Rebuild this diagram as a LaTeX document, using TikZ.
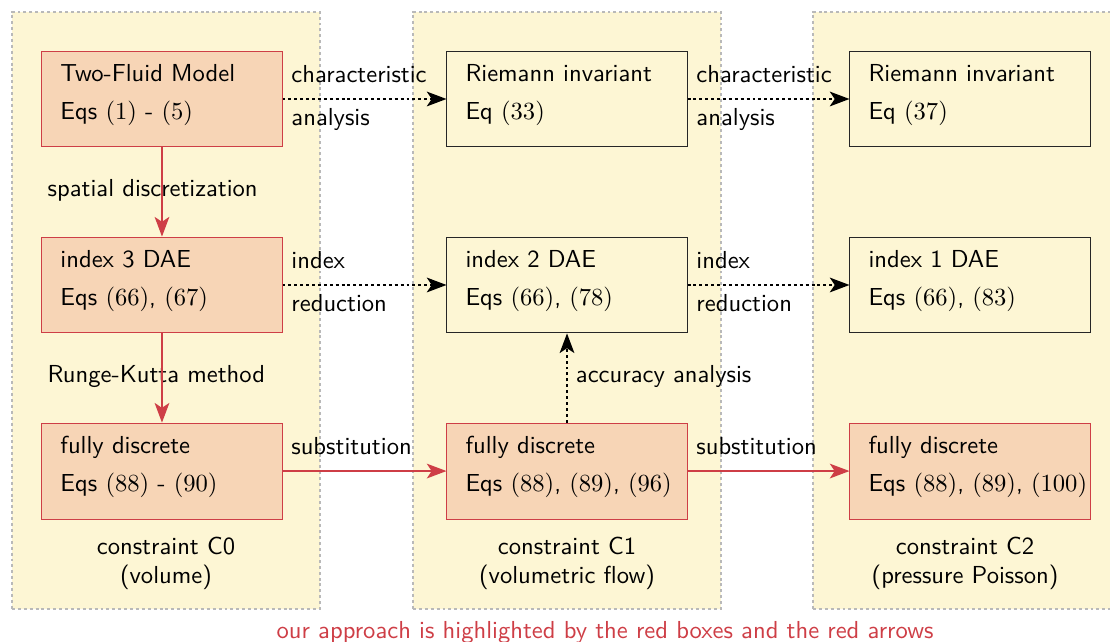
\documentclass[tikz,border=0pt]{standalone}
\usepackage{amsthm,amssymb,amsmath}
\usetikzlibrary{arrows.meta}
\pgfdeclarelayer{bg}
\pgfsetlayers{bg,main}
\definecolor{colbg}{RGB}{253,246,212}
\definecolor{ourfill}{RGB}{247,213,182}
\definecolor{ourred}{RGB}{206,62,70}
\tikzset{
        every node/.style={font=\sffamily},
        column/.style={fill=colbg, draw=gray!55, line width=0.5pt, dash pattern=on 1.2pt off 1.2pt,
                minimum width=4.4cm, minimum height=8.529cm},
        eqbox/.style={draw=black!85, line width=0.4pt, minimum height=1.37cm,
                text width=2.9cm, inner xsep=0.265cm, align=left,
                execute at end node={\rule[-6pt]{0pt}{0pt}}},
        ours/.style={eqbox, draw=ourred, fill=ourfill},
        lbl/.style={text height=0.7em, text depth=0.3em},
        dotarrow/.style={-{Stealth[length=8pt,width=6pt,inset=2pt]},
                line width=0.6pt, dash pattern=on 1.2pt off 1.2pt},
        redarrow/.style={-{Stealth[length=8pt,width=6pt,inset=2pt]},
                draw=ourred, fill=ourred, line width=0.5pt},
}

\begin{document}
\begin{tikzpicture}
        \useasboundingbox (0cm, 0cm) rectangle (15.857cm, -9.171cm);
        \begin{pgfonlayer}{bg}
                \node (k0) [column] at (2.371cm, -4.436cm) {};
                \node (k1) [column] at (8.100cm, -4.436cm) {};
                \node (k2) [column] at (13.814cm, -4.436cm) {};
        \end{pgfonlayer}
        % top row
        \node (a0) [ours] at (2.314cm, -1.414cm) {Two-Fluid Model\\[3.4pt]Eqs~$(1)$~-~$(5)$};
        \node (a1) [eqbox] at (8.100cm, -1.414cm) {Riemann invariant\\[3.4pt]Eq~$(33)$};
        \node (a2) [eqbox] at (13.857cm, -1.414cm) {Riemann invariant\\[3.4pt]Eq~$(37)$};
        % middle row
        \node (b0) [ours] at (2.314cm, -4.071cm) {index 3 DAE\\[3.4pt]Eqs~$(66)$,~$(67)$};
        \node (b1) [eqbox] at (8.100cm, -4.071cm) {index 2 DAE\\[3.4pt]Eqs~$(66)$,~$(78)$};
        \node (b2) [eqbox] at (13.857cm, -4.071cm) {index 1 DAE\\[3.4pt]Eqs~$(66)$,~$(83)$};
        % bottom row
        \node (c0) [ours] at (2.314cm, -6.729cm) {fully discrete\\[3.4pt]Eqs~$(88)$~-~$(90)$};
        \node (c1) [ours] at (8.100cm, -6.729cm) {fully discrete\\[3.4pt]Eqs~$(88)$,~$(89)$,~$(96)$};
        \node (c2) [ours] at (13.857cm, -6.729cm) {fully discrete\\[3.4pt]Eqs~$(88)$,~$(89)$,~$(100)$};
        \node (s0) [lbl, anchor=west] at (0.557cm, -2.743cm) {spatial discretization};
        \node (s1) [lbl, anchor=west] at (0.557cm, -5.400cm) {Runge-Kutta method};
        \node (n0) [align=center] at (2.371cm, -8.050cm) {constraint C0\\(volume)};
        \node (n1) [align=center] at (8.100cm, -8.050cm) {constraint C1\\(volumetric flow)};
        \node (n2) [align=center] at (13.786cm, -8.050cm) {constraint C2\\(pressure Poisson)};
        \node (note) [text=ourred] at (8.643cm, -9.029cm) {our approach is highlighted by the red boxes and the red arrows};
        \draw (a0) edge [dotarrow] node [lbl, pos=0, above right] {characteristic} node [lbl, pos=0, below right] {analysis} (a1);
        \draw (a1) edge [dotarrow] node [lbl, pos=0, above right] {characteristic} node [lbl, pos=0, below right] {analysis} (a2);
        \draw (b0) edge [dotarrow] node [lbl, pos=0, above right] {index} node [lbl, pos=0, below right] {reduction} (b1);
        \draw (b1) edge [dotarrow] node [lbl, pos=0, above right] {index} node [lbl, pos=0, below right] {reduction} (b2);
        \draw (c0) edge [redarrow] node [lbl, pos=0, above right, text=black] {substitution} (c1);
        \draw (c1) edge [redarrow] node [lbl, pos=0, above right, text=black] {substitution} (c2);
        \draw (a0) edge [redarrow] (b0);
        \draw (b0) edge [redarrow] (c0);
        \draw (c1) edge [dotarrow] node [lbl, midway, right] {accuracy analysis} (b1);
\end{tikzpicture}
\end{document}
